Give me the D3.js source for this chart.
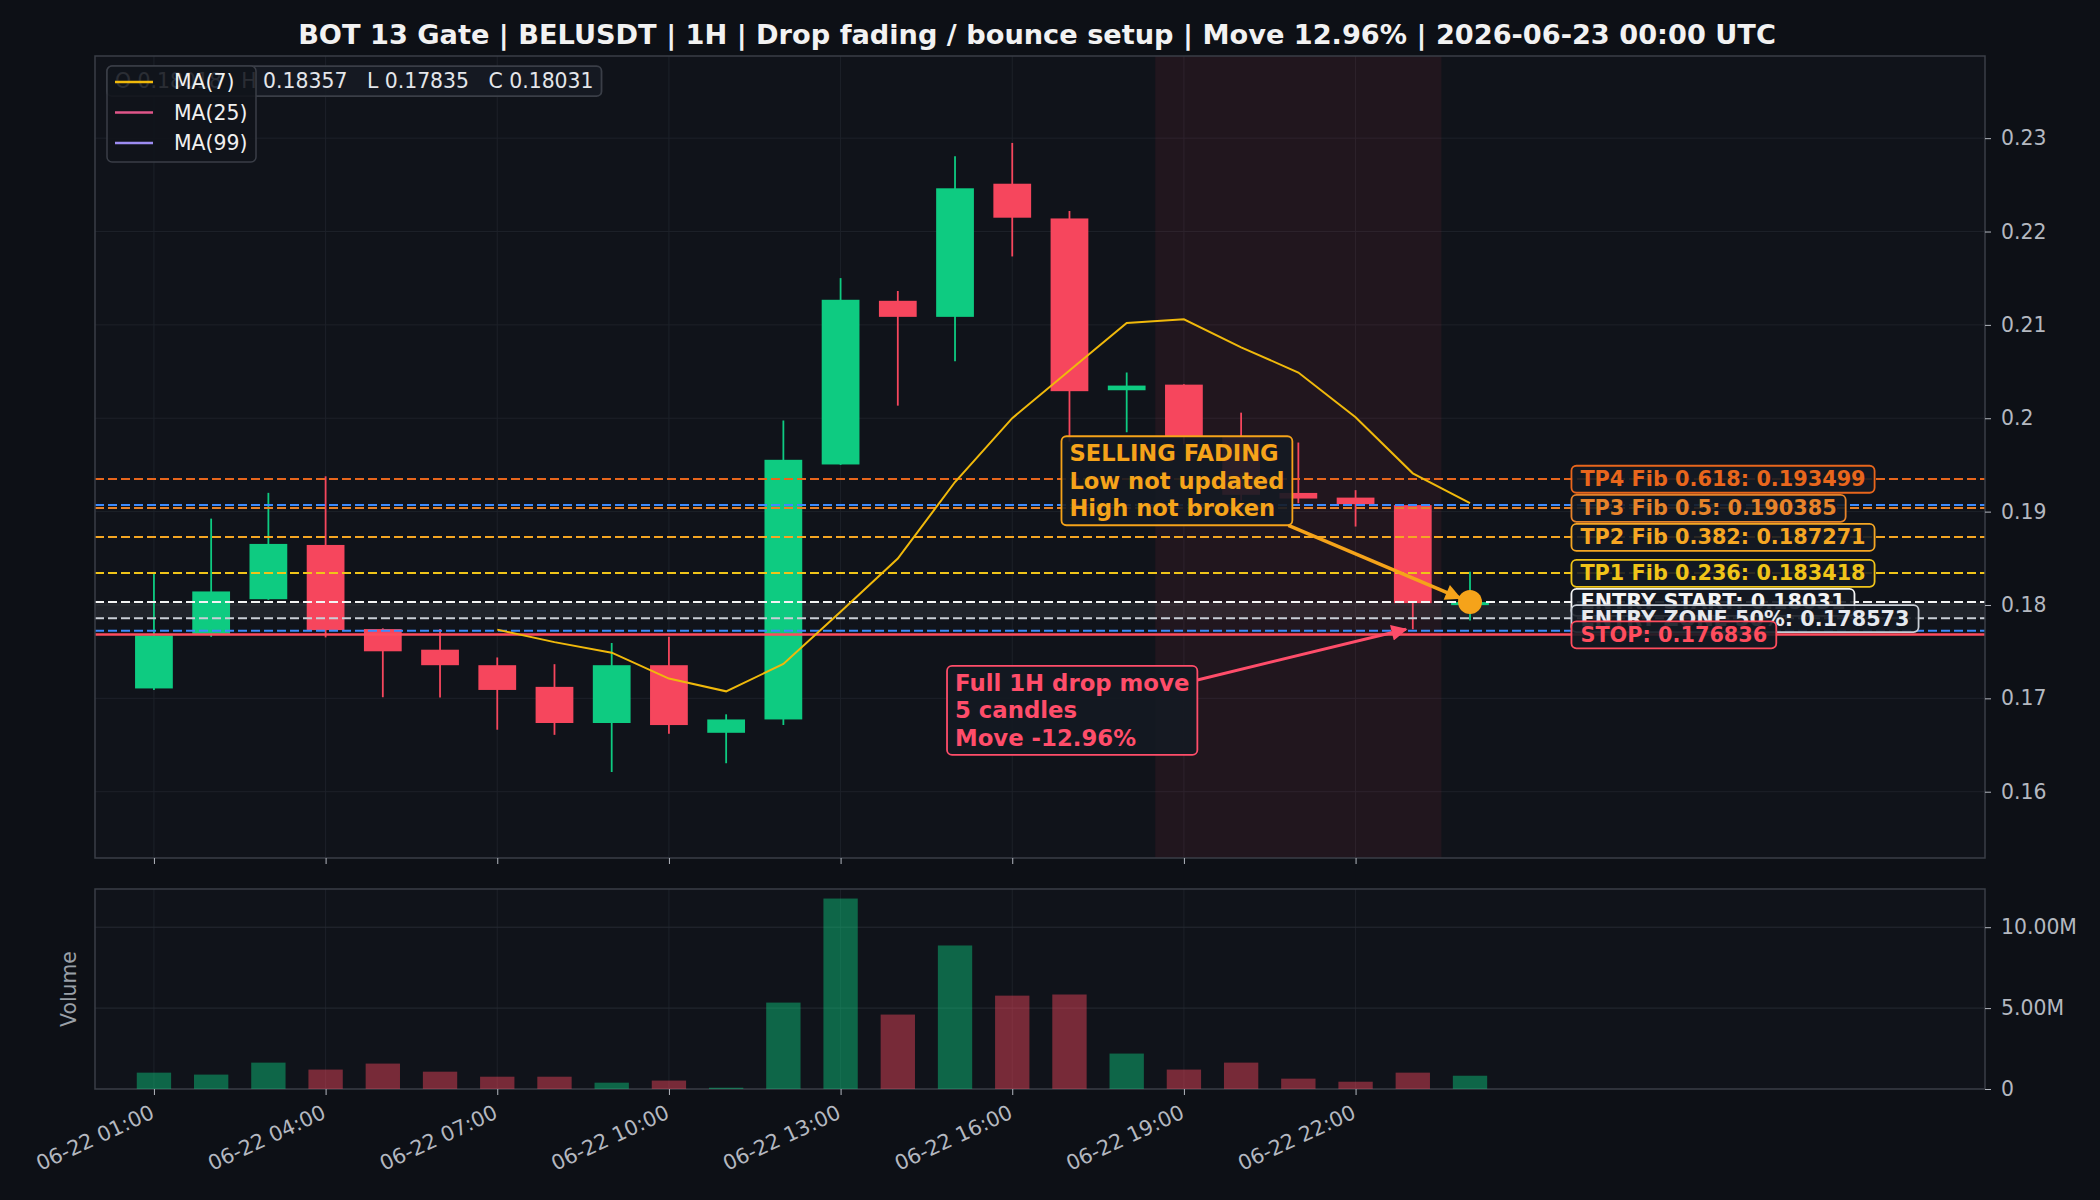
<!DOCTYPE html>
<html>
<head>
<meta charset="utf-8">
<script src="https://cdn.jsdelivr.net/npm/d3@7"></script>
<style>
    html, body { margin: 0; padding: 0; background: #0d1016; }
    svg { display: block; font-family: "DejaVu Sans", sans-serif; }
</style>
</head>
<body>
<div id="chart"></div>
<script>
// 1H candles, BELUSDT
const times = [
    '2026-06-22 01:00', '2026-06-22 02:00', '2026-06-22 03:00', '2026-06-22 04:00',
    '2026-06-22 05:00', '2026-06-22 06:00', '2026-06-22 07:00', '2026-06-22 08:00',
    '2026-06-22 09:00', '2026-06-22 10:00', '2026-06-22 11:00', '2026-06-22 12:00',
    '2026-06-22 13:00', '2026-06-22 14:00', '2026-06-22 15:00', '2026-06-22 16:00',
    '2026-06-22 17:00', '2026-06-22 18:00', '2026-06-22 19:00', '2026-06-22 20:00',
    '2026-06-22 21:00', '2026-06-22 22:00', '2026-06-22 23:00', '2026-06-23 00:00'
];
const opens  = [0.17106, 0.17690, 0.18062, 0.18643, 0.17742, 0.17521, 0.17355, 0.17123,
                0.16736, 0.17355, 0.16631, 0.16774, 0.19505, 0.21258, 0.21086, 0.22512,
                0.22140, 0.20300, 0.20360, 0.19800, 0.19200, 0.19150, 0.19070, 0.18018];
const highs  = [0.18333, 0.18925, 0.19201, 0.19378, 0.17750, 0.17742, 0.17438, 0.17366,
                0.17593, 0.17659, 0.16829, 0.19975, 0.21501, 0.21363, 0.22805, 0.22949,
                0.22220, 0.20490, 0.20365, 0.20060, 0.19740, 0.19230, 0.19075, 0.18357];
const lows   = [0.17090, 0.17659, 0.18055, 0.17653, 0.17012, 0.17010, 0.16664, 0.16609,
                0.16211, 0.16620, 0.16305, 0.16714, 0.19500, 0.20135, 0.20611, 0.21733,
                0.19750, 0.19850, 0.19720, 0.19120, 0.19090, 0.18840, 0.17740, 0.17835];
const closes = [0.17675, 0.18145, 0.18654, 0.17731, 0.17504, 0.17355, 0.17090, 0.16736,
                0.17355, 0.16714, 0.16774, 0.19555, 0.21269, 0.21086, 0.22463, 0.22148,
                0.20290, 0.20350, 0.19800, 0.19180, 0.19140, 0.19080, 0.18020, 0.18031];
// volume, millions
const volumes = [1.01, 0.89, 1.63, 1.20, 1.57, 1.07, 0.76, 0.76, 0.39, 0.52, 0.08, 5.34,
                 11.77, 4.60, 8.87, 5.77, 5.84, 2.19, 1.20, 1.63, 0.64, 0.45, 1.01, 0.82];
// MA(7) as drawn (starts at the 7th candle)
const ma7 = [null, null, null, null, null, null, 0.17736, 0.17602, 0.17489, 0.17212,
             0.17075, 0.17368, 0.17928, 0.18498, 0.19317, 0.20001, 0.20512, 0.21020,
             0.21060, 0.20760, 0.20490, 0.20010, 0.19410, 0.19090];

const levelNames  = ['TP4 Fib 0.618', 'TP3 Fib 0.5', 'TP2 Fib 0.382', 'TP1 Fib 0.236',
                     'ENTRY START', 'ENTRY ZONE 50%', 'STOP'];
const levelValues = [0.193499, 0.190385, 0.187271, 0.183418, 0.18031, 0.178573, 0.176836];
const rangeLines  = [0.19070, 0.17725];   // blue dashed
const dropStart = 18, dropEnd = 22;       // candle indexes of the 5-candle drop

const legendNames = ['MA(7)', 'MA(25)', 'MA(99)'];
const titleText = 'BOT 13 Gate | BELUSDT | 1H | Drop fading / bounce setup | Move 12.96% | 2026-06-23 00:00 UTC';
const infoText = 'O 0.18018   H 0.18357   L 0.17835   C 0.18031';
const fadingLines = ['SELLING FADING', 'Low not updated', 'High not broken'];
const dropLines = ['Full 1H drop move', '5 candles', 'Move -12.96%'];

// styles
const C = {
    fig: '#0d1016', panel: '#10131a', frame: '#3a3e47', grid: '#1d2129',
    tick: '#b4b8c0', up: '#0ecb81', down: '#f6465d',
    ma7: '#f0b90b', ma25: '#e0568a', ma99: '#9d8cf2', blue: '#3d8bfd',
    fade: '#f5a31a', drop: '#ff4d6a'
};
const levelColors = ['#e8661c', '#e6832a', '#f5a623', '#f0c419', '#f4f4f4', '#e6e9ee', '#ff4d5e'];
const levelStroke = ['#e8661c', '#e6832a', '#f5a623', '#f0c419', '#f4f4f4', '#c9ced6', '#ff4d5e'];

const W = 2100, H = 1200;
const main = { left: 95, right: 1985, top: 56, bottom: 858 };
const vol = { top: 889, bottom: 1089 };
const hour = 3600e3;
const FONT = 20.4;

const T = times.map(d3.utcParse('%Y-%m-%d %H:%M'));
const at = (i, h = 0) => new Date(+T[i] + h * hour);

const x = d3.scaleUtc()
    .domain([at(0, -1.03), at(0, 32)])
    .range([main.left, main.right]);
const y = d3.scaleLinear().domain([0.1529, 0.2388]).range([main.bottom, main.top]);
const yv = d3.scaleLinear().domain([0, 12.36]).range([vol.bottom, vol.top]);

const svg = d3.select('#chart').append('svg')
    .attr('width', W).attr('height', H);

svg.append('rect').attr('width', W).attr('height', H).attr('fill', C.fig);

// panels
[[main.top, main.bottom], [vol.top, vol.bottom]].forEach(([t, b]) => {
    svg.append('rect')
        .attr('x', main.left).attr('y', t)
        .attr('width', main.right - main.left).attr('height', b - t)
        .attr('fill', C.panel);
});

const defs = svg.append('defs');
defs.append('clipPath').attr('id', 'clipMain')
    .append('rect')
    .attr('x', main.left).attr('y', main.top)
    .attr('width', main.right - main.left).attr('height', main.bottom - main.top);

const xTicks = T.filter((d, i) => i % 3 === 0);
const yTicks = y.ticks(8).filter(d => d >= 0.16);
const vTicks = [0, 5, 10];

// grid
const grid = svg.append('g').attr('stroke', C.grid).attr('stroke-width', 1);
xTicks.forEach(t => {
    grid.append('line').attr('x1', x(t)).attr('x2', x(t)).attr('y1', main.top).attr('y2', main.bottom);
    grid.append('line').attr('x1', x(t)).attr('x2', x(t)).attr('y1', vol.top).attr('y2', vol.bottom);
});
yTicks.forEach(v => {
    grid.append('line').attr('x1', main.left).attr('x2', main.right).attr('y1', y(v)).attr('y2', y(v));
});
vTicks.slice(1).forEach(v => {
    grid.append('line').attr('x1', main.left).attr('x2', main.right).attr('y1', yv(v)).attr('y2', yv(v))
        .attr('stroke', '#262a33');
});

const g = svg.append('g').attr('clip-path', 'url(#clipMain)');

// drop window + entry band
g.append('rect')
    .attr('x', x(at(dropStart, -0.5)))
    .attr('width', x(at(dropEnd, 0.5)) - x(at(dropStart, -0.5)))
    .attr('y', main.top).attr('height', main.bottom - main.top)
    .attr('fill', C.down).attr('fill-opacity', 0.08);

g.append('rect')
    .attr('x', main.left).attr('width', main.right - main.left)
    .attr('y', y(levelValues[4])).attr('height', y(levelValues[5]) - y(levelValues[4]))
    .attr('fill', '#ffffff').attr('fill-opacity', 0.07);

// candles
const bw = x(at(0, 0.66)) - x(at(0));
T.forEach((t, i) => {
    const col = closes[i] >= opens[i] ? C.up : C.down;
    g.append('line')
        .attr('x1', x(t)).attr('x2', x(t))
        .attr('y1', y(highs[i])).attr('y2', y(lows[i]))
        .attr('stroke', col).attr('stroke-width', 1.8);
    const top = y(Math.max(opens[i], closes[i]));
    const bot = y(Math.min(opens[i], closes[i]));
    g.append('rect')
        .attr('x', x(t) - bw / 2).attr('width', bw)
        .attr('y', top).attr('height', Math.max(bot - top, 3))
        .attr('fill', col);
});

// level lines
rangeLines.forEach(v => {
    g.append('line')
        .attr('x1', main.left).attr('x2', main.right)
        .attr('y1', y(v)).attr('y2', y(v))
        .attr('stroke', C.blue).attr('stroke-width', 2)
        .attr('stroke-dasharray', '9,4');
});
levelValues.forEach((v, i) => {
    const isStop = i === levelValues.length - 1;
    g.append('line')
        .attr('x1', main.left).attr('x2', main.right)
        .attr('y1', y(v)).attr('y2', y(v))
        .attr('stroke', levelStroke[i])
        .attr('stroke-width', isStop ? 2.6 : 2)
        .attr('stroke-dasharray', isStop ? null : '9,4');
});

// MA(7)
const maLine = d3.line()
    .defined(d => d.v != null)
    .x(d => x(d.t))
    .y(d => y(d.v));
g.append('path')
    .datum(T.map((t, i) => ({ t, v: ma7[i] })))
    .attr('d', maLine)
    .attr('fill', 'none')
    .attr('stroke', C.ma7)
    .attr('stroke-width', 2);

// frames
[[main.top, main.bottom], [vol.top, vol.bottom]].forEach(([t, b]) => {
    svg.append('rect')
        .attr('x', main.left).attr('y', t)
        .attr('width', main.right - main.left).attr('height', b - t)
        .attr('fill', 'none').attr('stroke', C.frame).attr('stroke-width', 1.5);
});

// volume bars
const vw = x(at(0, 0.6)) - x(at(0));
T.forEach((t, i) => {
    svg.append('rect')
        .attr('x', x(t) - vw / 2).attr('width', vw)
        .attr('y', yv(volumes[i])).attr('height', yv(0) - yv(volumes[i]))
        .attr('fill', closes[i] >= opens[i] ? C.up : C.down)
        .attr('fill-opacity', 0.45);
});

// axes
const styleAxis = sel => {
    sel.select('.domain').remove();
    sel.selectAll('.tick line').attr('stroke', C.tick);
    sel.selectAll('.tick text')
        .attr('fill', C.tick)
        .attr('font-size', FONT)
        .attr('font-family', '"DejaVu Sans", sans-serif');
};

svg.append('g')
    .attr('transform', `translate(${main.right},0)`)
    .call(d3.axisRight(y).tickValues(yTicks).tickSize(6).tickPadding(10).tickFormat(d3.format('~g')))
    .call(styleAxis);

svg.append('g')
    .attr('transform', `translate(${main.right},0)`)
    .call(d3.axisRight(yv).tickValues(vTicks).tickSize(6).tickPadding(10)
        .tickFormat(d => d === 0 ? '0' : d.toFixed(2) + 'M'))
    .call(styleAxis);

svg.append('g')
    .attr('transform', `translate(0,${main.bottom})`)
    .call(d3.axisBottom(x).tickValues(xTicks).tickSize(6).tickFormat(''))
    .call(styleAxis);

const xAxis = svg.append('g')
    .attr('transform', `translate(0,${vol.bottom})`)
    .call(d3.axisBottom(x).tickValues(xTicks).tickSize(6).tickFormat(d3.utcFormat('%m-%d %H:%M')))
    .call(styleAxis);
xAxis.selectAll('.tick text')
    .attr('font-size', 20.8)
    .attr('text-anchor', 'end')
    .attr('x', 0).attr('y', 0).attr('dy', '0.71em')
    .attr('transform', 'translate(-5,15) rotate(-25)');

svg.append('text')
    .attr('transform', `translate(76,${(vol.top + vol.bottom) / 2}) rotate(-90)`)
    .attr('text-anchor', 'middle')
    .attr('fill', '#9aa0a8')
    .attr('font-size', FONT)
    .text('Volume');

// title
svg.append('text')
    .attr('x', (main.left + main.right) / 2 - 3).attr('y', 34)
    .attr('dy', '0.35em')
    .attr('text-anchor', 'middle')
    .attr('fill', '#f2f2f2')
    .attr('font-size', 27.2)
    .attr('font-weight', 'bold')
    .text(titleText);

// boxed text helper
function boxedText(parent, lines, px, py, o) {
    const grp = parent.append('g');
    const t = grp.append('text')
        .attr('fill', o.color)
        .attr('font-size', o.size)
        .attr('font-weight', o.weight || 'bold')
        .style('white-space', 'pre');
    lines.forEach((s, k) => {
        t.append('tspan').attr('x', px).attr('y', py + k * o.lineH).attr('dy', '0.35em').text(s);
    });
    const bb = t.node().getBBox();
    const box = {
        x: bb.x - o.padX, y: bb.y - o.padY,
        w: bb.width + 2 * o.padX, h: bb.height + 2 * o.padY
    };
    grp.insert('rect', 'text')
        .attr('x', box.x).attr('y', box.y)
        .attr('width', box.w).attr('height', box.h)
        .attr('rx', 5)
        .attr('fill', o.fill || '#141922').attr('fill-opacity', o.alpha || 0.9)
        .attr('stroke', o.stroke).attr('stroke-width', 1.8);
    return box;
}

// info + legend
boxedText(svg, [infoText], 115, 81, {
    color: '#e4e6ea', size: FONT, weight: 'normal', lineH: 0,
    padX: 8, padY: 3, stroke: '#3a3e47', fill: '#161b24'
});
const leg = svg.append('g');
leg.append('rect')
    .attr('x', 107).attr('y', 66).attr('width', 149).attr('height', 96)
    .attr('rx', 5)
    .attr('fill', '#10131a').attr('fill-opacity', 0.88)
    .attr('stroke', '#3a3e47').attr('stroke-width', 1.5);
[C.ma7, C.ma25, C.ma99].forEach((col, k) => {
    const yy = 82 + k * 30.5;
    leg.append('line')
        .attr('x1', 115).attr('x2', 153).attr('y1', yy).attr('y2', yy)
        .attr('stroke', col).attr('stroke-width', 2.5);
    leg.append('text')
        .attr('x', 174).attr('y', yy).attr('dy', '0.35em')
        .attr('fill', '#f0f0f0').attr('font-size', FONT)
        .text(legendNames[k]);
});

// arrow heads
[['headFade', C.fade], ['headDrop', C.drop]].forEach(([id, col]) => {
    defs.append('marker')
        .attr('id', id)
        .attr('viewBox', '0 0 10 10')
        .attr('refX', 9).attr('refY', 5)
        .attr('markerUnits', 'userSpaceOnUse')
        .attr('markerWidth', 20).attr('markerHeight', 16)
        .attr('orient', 'auto')
        .append('path').attr('d', 'M0,0 L10,5 L0,10 z').attr('fill', col);
});

const last = T.length - 1;
const arrowLayer = svg.append('g');
const boxLayer = svg.append('g');

// drop annotation
const dropBox = boxedText(boxLayer, dropLines, x(at(14)), y(0.17165), {
    color: C.drop, size: 22.8, lineH: 27.5, padX: 8, padY: 4, stroke: C.drop
});
arrowLayer.append('line')
    .attr('x1', dropBox.x + dropBox.w).attr('y1', dropBox.y + 14)
    .attr('x2', x(at(dropEnd, -0.12))).attr('y2', y(lows[dropEnd]))
    .attr('stroke', C.drop).attr('stroke-width', 3)
    .attr('marker-end', 'url(#headDrop)');

// fading annotation
const fadeBox = boxedText(boxLayer, fadingLines, x(at(16)), y(0.19624), {
    color: C.fade, size: 22.6, lineH: 27.5, padX: 8, padY: 4, stroke: C.fade
});
arrowLayer.append('line')
    .attr('x1', fadeBox.x + fadeBox.w - 4).attr('y1', fadeBox.y + fadeBox.h)
    .attr('x2', x(T[last]) - 10).attr('y2', y(closes[last]) - 4)
    .attr('stroke', C.fade).attr('stroke-width', 3.5)
    .attr('marker-end', 'url(#headFade)');

arrowLayer.append('circle')
    .attr('cx', x(T[last])).attr('cy', y(closes[last]))
    .attr('r', 12)
    .attr('fill', C.fade);

// level labels
const labelX = x(at(last, 1.93));
levelValues.forEach((v, i) => {
    boxedText(boxLayer, [`${levelNames[i]}: ${v}`], labelX, y(v), {
        color: levelColors[i], size: 20.8, lineH: 0, padX: 9, padY: 1.5,
        stroke: levelStroke[i]
    });
});
</script>
</body>
</html>
